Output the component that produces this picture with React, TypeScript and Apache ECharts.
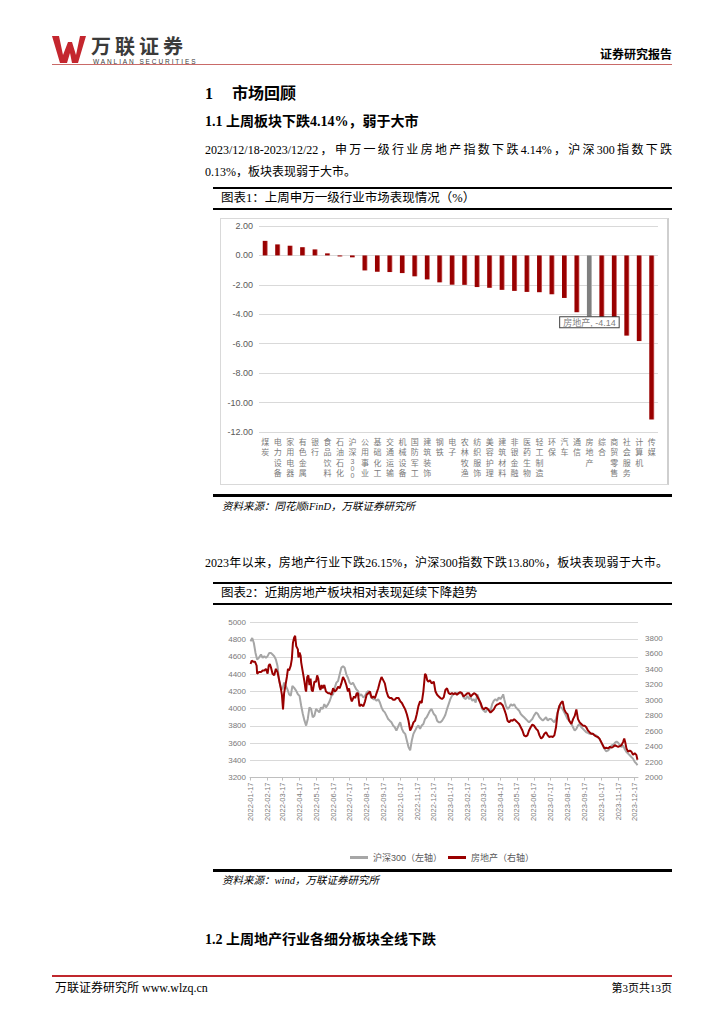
import React, { useEffect, useRef } from "react";
import * as echarts from "echarts";

// ---------- Chart 1 data ----------
const industries = ["煤炭","电力设备","家用电器","有色金属","银行","食品饮料","石油石化","沪深300","公用事业","基础化工","交通运输","机械设备","国防军工","建筑装饰","钢铁","电子","农林牧渔","纺织服饰","美容护理","建筑材料","非银金融","医药生物","轻工制造","环保","汽车","通信","房地产","综合","商贸零售","社会服务","计算机","传媒"];
const weeklyChange = [0.99,0.75,0.66,0.56,0.41,0.14,-0.07,-0.13,-1.02,-1.11,-1.13,-1.20,-1.42,-1.63,-1.83,-1.99,-2.00,-2.15,-2.20,-2.34,-2.41,-2.48,-2.50,-2.64,-2.89,-3.86,-4.14,-4.53,-4.70,-5.45,-5.82,-11.15];
const highlighted = "房地产";

// ---------- Chart 2 data ----------
// [days since 2022-01-17, index level]
const startDate = "2022-01-17";
const hs300: [number, number][] = [[1,4781],[4,4820],[7,4762],[10,4647],[13,4570],[16,4589],[20,4628],[23,4589],[26,4609],[29,4589],[32,4609],[35,4647],[38,4647],[41,4628],[44,4609],[47,4570],[50,4494],[53,4321],[56,4244],[59,4225],[62,4302],[65,4263],[68,4225],[71,4167],[74,4148],[77,4263],[80,4244],[84,4206],[87,4167],[90,4148],[93,4033],[96,3937],[99,3860],[102,3803],[105,3880],[108,4014],[111,3995],[114,3899],[117,3918],[120,3995],[123,3976],[126,3956],[129,4014],[132,3995],[135,4052],[138,4014],[142,4052],[145,4091],[148,4148],[151,4167],[154,4244],[157,4302],[160,4321],[163,4398],[166,4474],[169,4494],[172,4474],[175,4398],[178,4359],[181,4302],[184,4282],[187,4302],[190,4263],[193,4225],[196,4206],[199,4148],[202,4167],[206,4129],[209,4148],[212,4187],[215,4206],[218,4167],[221,4129],[224,4110],[227,4110],[230,4091],[233,4110],[236,4071],[239,4014],[242,3976],[245,3956],[248,3918],[251,3880],[254,3860],[257,3841],[260,3803],[263,3784],[266,3745],[270,3803],[273,3841],[276,3765],[279,3726],[282,3707],[285,3630],[288,3553],[291,3515],[294,3630],[297,3707],[300,3745],[303,3784],[306,3803],[309,3765],[312,3803],[315,3822],[318,3880],[321,3899],[324,3937],[327,3976],[330,3995],[334,3937],[337,3918],[340,3860],[343,3841],[346,3841],[349,3860],[352,3890],[355,3929],[358,3995],[361,4052],[364,4110],[367,4148],[370,4167],[373,4179],[379,4179],[385,4179],[388,4129],[392,4110],[395,4148],[398,4110],[401,4129],[404,4091],[407,4110],[410,4071],[413,4167],[416,4110],[419,4052],[422,3995],[425,3976],[428,3956],[431,3995],[434,3995],[437,3976],[440,4052],[443,4091],[446,4110],[449,4091],[452,4129],[455,4110],[459,4148],[460,4167],[462,4110],[465,4033],[468,3995],[471,4014],[474,4052],[477,4033],[480,4052],[483,4014],[486,3995],[489,3976],[492,3937],[495,3918],[498,3899],[501,3880],[504,3860],[507,3841],[510,3860],[513,3880],[516,3918],[520,3956],[523,3937],[526,3899],[529,3880],[532,3860],[535,3880],[538,3899],[541,3860],[544,3880],[547,3880],[550,3860],[553,3841],[556,3880],[559,3956],[562,4033],[565,4014],[568,3995],[571,3956],[574,3918],[577,3880],[580,3860],[584,3822],[587,3784],[590,3745],[593,3765],[596,3803],[599,3822],[602,3784],[605,3765],[608,3745],[611,3726],[614,3718],[617,3707],[620,3707],[623,3707],[626,3695],[629,3688],[632,3668],[635,3649],[638,3611],[641,3573],[644,3534],[647,3504],[651,3515],[654,3542],[657,3573],[660,3580],[663,3603],[666,3619],[669,3603],[672,3580],[675,3553],[678,3573],[681,3527],[684,3496],[687,3477],[690,3458],[693,3438],[696,3419],[699,3381],[702,3362],[704,3342]];
const realEstate: [number, number][] = [[1,3465],[3,3507],[6,3494],[9,3494],[12,3444],[13,3339],[16,3360],[20,3360],[23,3381],[26,3381],[29,3402],[32,3339],[34,3444],[36,3465],[38,3423],[41,3339],[44,3318],[47,3402],[50,3360],[53,3256],[56,3151],[58,3067],[60,2879],[62,3088],[65,3214],[67,3297],[69,3402],[71,3381],[74,3444],[76,3528],[78,3737],[80,3800],[82,3829],[84,3695],[87,3653],[88,3549],[90,3612],[92,3570],[93,3486],[96,3360],[99,3235],[101,3130],[102,3109],[104,3297],[106,3318],[108,3193],[110,3277],[112,3130],[114,3109],[117,3235],[120,3235],[122,3318],[124,3277],[126,3172],[128,3130],[130,3193],[132,3151],[135,3193],[138,3109],[142,3088],[145,3088],[148,3067],[151,3151],[154,3109],[157,3130],[160,3172],[163,3151],[166,3214],[169,3297],[172,3256],[175,3193],[178,3109],[180,3151],[183,3025],[185,2983],[189,3046],[191,3025],[194,3088],[196,3088],[199,2920],[202,2941],[206,2920],[209,2983],[212,3067],[215,3088],[218,3109],[221,3025],[224,3046],[227,3025],[230,3088],[233,3151],[236,3235],[239,3297],[242,3256],[245,3214],[248,3109],[251,3046],[254,3025],[257,3025],[260,3004],[263,3004],[266,3025],[270,3025],[273,2983],[276,2962],[279,2920],[282,2879],[285,2816],[288,2732],[291,2606],[294,2648],[297,2711],[300,2732],[303,2816],[306,2921],[309,2983],[312,2962],[315,3109],[318,3339],[320,3318],[322,3256],[324,3235],[327,3256],[330,3214],[334,3235],[337,3109],[340,3067],[343,3046],[346,3025],[349,3014],[352,3034],[355,3130],[358,3151],[361,3088],[364,3075],[367,3088],[370,3075],[373,3088],[376,3067],[379,3088],[382,3101],[385,3088],[388,3046],[392,3067],[395,3088],[398,3088],[401,3046],[404,3067],[407,3088],[410,3075],[413,3046],[416,3004],[419,2962],[422,2900],[425,2879],[428,2900],[431,2891],[434,2866],[437,2837],[440,2858],[443,2879],[446,2921],[449,2941],[452,2950],[455,2962],[459,2933],[462,2879],[465,2816],[468,2732],[471,2711],[474,2740],[477,2732],[480,2753],[483,2732],[486,2711],[489,2690],[492,2648],[495,2606],[498,2544],[501,2531],[504,2544],[507,2606],[510,2648],[513,2682],[516,2669],[520,2627],[523,2606],[526,2544],[529,2502],[532,2523],[535,2565],[538,2585],[541,2544],[544,2523],[547,2531],[550,2523],[553,2544],[556,2648],[559,2837],[562,2921],[565,2962],[568,2983],[571,2879],[574,2837],[577,2816],[580,2732],[584,2690],[587,2753],[590,2795],[593,2879],[594,2879],[596,2753],[599,2711],[602,2690],[605,2669],[608,2669],[611,2648],[614,2606],[617,2585],[620,2565],[623,2565],[626,2544],[629,2531],[632,2523],[635,2502],[638,2460],[641,2418],[644,2376],[647,2384],[651,2376],[654,2397],[657,2384],[660,2397],[663,2418],[666,2405],[669,2397],[672,2405],[675,2418],[678,2460],[680,2502],[682,2447],[684,2376],[687,2334],[690,2347],[693,2334],[696,2292],[699,2313],[702,2292],[704,2230]];
const monthTicks = ["2022-01-17","2022-02-17","2022-03-17","2022-04-17","2022-05-17","2022-06-17","2022-07-17","2022-08-17","2022-09-17","2022-10-17","2022-11-17","2022-12-17","2023-01-17","2023-02-17","2023-03-17","2023-04-17","2023-05-17","2023-06-17","2023-07-17","2023-08-17","2023-09-17","2023-10-17","2023-11-17","2023-12-17"];
const endDay = 705;

const parseDate = (s: string) => {
  const [y, m, d] = s.split("-").map(Number);
  return Date.UTC(y, m - 1, d);
};
const DAY = 86400000;
const t0 = parseDate(startDate);
const dayOf = (s: string) => Math.round((parseDate(s) - t0) / DAY);
const pad = (n: number) => (n < 10 ? "0" + n : "" + n);
const fmtDay = (d: number) => {
  const dt = new Date(t0 + Math.round(d) * DAY);
  return `${dt.getUTCFullYear()}-${pad(dt.getUTCMonth() + 1)}-${pad(dt.getUTCDate())}`;
};

const CFONT = '"Liberation Sans","Noto Sans CJK SC",sans-serif';
const SERIF = '"Liberation Serif","Noto Sans CJK SC",serif';
const RED = "#990000";

function buildOption1(): any {
  const barColor = new echarts.graphic.LinearGradient(0, 0, 1, 0, [
    { offset: 0, color: RED },
    { offset: 0.72, color: RED },
    { offset: 1, color: "#d98080" },
  ]);
  const greyColor = new echarts.graphic.LinearGradient(0, 0, 1, 0, [
    { offset: 0, color: "#7f7f7f" },
    { offset: 0.72, color: "#7f7f7f" },
    { offset: 1, color: "#bfbfbf" },
  ]);
  return {
    animation: false,
    textStyle: { fontFamily: CFONT },
    grid: { left: 38, right: 9, top: 7, bottom: 52 },
    xAxis: {
      type: "category",
      data: industries,
      axisLine: { show: false },
      axisTick: { show: false },
      axisLabel: {
        interval: 0,
        margin: 5,
        color: "#7a7a7a",
        fontSize: 8,
        lineHeight: 10.5,
        formatter: (v: string) =>
          v
            .split("")
            .map((ch) => (/[0-9]/.test(ch) ? `{d|${ch}}` : ch))
            .join("\n"),
        rich: { d: { fontSize: 7, lineHeight: 7, color: "#7a7a7a" } },
      },
    },
    yAxis: {
      type: "value",
      min: -12,
      max: 2,
      interval: 2,
      axisLine: { show: false },
      axisTick: { show: false },
      axisLabel: {
        color: "#595959",
        fontSize: 9,
        margin: 6,
        formatter: (v: number) => v.toFixed(2),
      },
      splitLine: { lineStyle: { color: "#d9d9d9", width: 1 } },
    },
    series: [
      {
        type: "bar",
        barWidth: 5,
        itemStyle: { color: barColor },
        data: weeklyChange.map((v, i) =>
          industries[i] === highlighted
            ? {
                value: v,
                itemStyle: { color: greyColor },
                label: {
                  show: true,
                  position: "bottom",
                  distance: 1,
                  formatter: "{b}, {c}",
                  color: "#7f7f7f",
                  fontSize: 9,
                  backgroundColor: "#ffffff",
                  borderColor: "#404040",
                  borderWidth: 1,
                  padding: [1, 3, 0, 3],
                },
              }
            : v
        ),
      },
    ],
  };
}

function buildOption2(): any {
  const tickDays = monthTicks.map(dayOf);
  return {
    animation: false,
    textStyle: { fontFamily: CFONT },
    grid: { left: 38, right: 34, top: 10.5, bottom: 84.5 },
    legend: {
      top: 236,
      left: "center",
      icon: "rect",
      itemWidth: 18,
      itemHeight: 3,
      itemGap: 6,
      textStyle: { color: "#595959", fontSize: 9 },
      data: ["沪深300（左轴）", "房地产（右轴）"],
    },
    xAxis: {
      type: "value",
      min: 0,
      max: endDay,
      axisLine: { show: true, onZero: false, lineStyle: { color: "#bfbfbf" } },
      axisTick: { show: true, customValues: tickDays, length: 3, lineStyle: { color: "#bfbfbf" } },
      splitLine: { show: false },
      axisLabel: {
        customValues: tickDays,
        rotate: 90,
        margin: 5,
        fontSize: 7.5,
        color: "#7a7a7a",
        formatter: (v: number) => fmtDay(v),
      },
    },
    yAxis: [
      {
        type: "value",
        min: 3200,
        max: 5000,
        interval: 200,
        position: "left",
        axisLine: { show: false },
        axisTick: { show: false },
        axisLabel: { color: "#7a7a7a", fontSize: 8, margin: 4, formatter: (v: number) => String(v) },
        splitLine: { lineStyle: { color: "#d9d9d9" } },
      },
      {
        type: "value",
        min: 2000,
        max: 4000,
        interval: 200,
        position: "right",
        axisLine: { show: false },
        axisTick: { show: false },
        axisLabel: { color: "#7a7a7a", fontSize: 8, margin: 7, showMaxLabel: false, formatter: (v: number) => String(v) },
        splitLine: { show: false },
      },
    ],
    series: [
      {
        name: "沪深300（左轴）",
        type: "line",
        yAxisIndex: 0,
        symbol: "none",
        color: "#a6a6a6",
        lineStyle: { color: "#a6a6a6", width: 2 },
        data: hs300,
      },
      {
        name: "房地产（右轴）",
        type: "line",
        yAxisIndex: 1,
        symbol: "none",
        color: RED,
        lineStyle: { color: RED, width: 2 },
        data: realEstate,
      },
    ],
  };
}

type TProps = {
  x: number;
  y: number;
  size: number;
  bold?: boolean;
  italic?: boolean;
  right?: boolean;
  width?: number;
  justify?: boolean;
  color?: string;
  font?: string;
  lhf?: number;
  spacing?: number;
  children: React.ReactNode;
};

function T({ x, y, size, bold, italic, right, width, justify, color, font, lhf, spacing, children }: TProps) {
  const lh = Math.round(size * (lhf || 1.3));
  const style: React.CSSProperties = {
    position: "absolute",
    top: y - lh / 2,
    fontSize: size,
    lineHeight: `${lh}px`,
    fontWeight: bold ? 700 : 400,
    fontStyle: italic ? "italic" : "normal",
    whiteSpace: "nowrap",
    color: color || "#000",
    fontFamily: font || SERIF,
    letterSpacing: spacing || 0,
  };
  if (right) style.right = 724 - x;
  else style.left = x;
  if (width) {
    style.width = width;
    if (justify) {
      style.textAlign = "justify";
      (style as any).textAlignLast = "justify";
    }
  }
  return <div style={style}>{children}</div>;
}

function HLine({ x, y, w, h, color }: { x: number; y: number; w: number; h: number; color: string }) {
  return <div style={{ position: "absolute", left: x, top: y, width: w, height: h, background: color }} />;
}

export default function App() {
  const ref1 = useRef<HTMLDivElement>(null);
  const ref2 = useRef<HTMLDivElement>(null);

  useEffect(() => {
    const c1 = echarts.init(ref1.current!, null, { renderer: "svg" });
    c1.setOption(buildOption1());
    const c2 = echarts.init(ref2.current!, null, { renderer: "svg" });
    c2.setOption(buildOption2());
    return () => {
      c1.dispose();
      c2.dispose();
    };
  }, []);

  return (
    <div style={{ position: "absolute", left: 0, top: 0, width: 724, height: 1024, background: "#fff", overflow: "hidden" }}>
      {/* Header */}
      <svg style={{ position: "absolute", left: 0, top: 0 }} width={100} height={70}>
        <polygon points="52,36 59,36 63,55 68,42 72,42 76,55 80,36 86,36 78,63 72,63 70,53 67,63 60,63" fill="#c4262e" />
      </svg>
      <T x={91} y={46.5} size={20} bold lhf={1} font={'"Liberation Sans","Noto Sans CJK SC",sans-serif'} color="#3b3b3b" spacing={4}>万联证券</T>
      <T x={93} y={61.8} size={6.5} lhf={1} font={'"Liberation Sans",sans-serif'} color="#3b3b3b" spacing={1.9}>WANLIAN SECURITIES</T>
      <T x={672} y={55} size={12} bold right>证券研究报告</T>
      <HLine x={52} y={64} w={620} h={1} color="#c96a68" />

      {/* Section headings */}
      <T x={205} y={93} size={16} bold>1</T>
      <T x={232} y={93} size={16} bold>市场回顾</T>
      <T x={205} y={122} size={14} bold>1.1 上周板块下跌4.14%，弱于大市</T>
      <T x={205} y={150} size={12} width={467} justify>2023/12/18-2023/12/22，申万一级行业房地产指数下跌4.14%，沪深300指数下跌</T>
      <T x={205} y={172} size={12}>0.13%，板块表现弱于大市。</T>

      {/* Figure 1 */}
      <HLine x={213} y={187} w={459} h={2} color="#000" />
      <T x={221} y={198} size={12.5}>图表1：上周申万一级行业市场表现情况（%）</T>
      <HLine x={213} y={208} w={459} h={1.5} color="#000" />
      <div style={{ position: "absolute", left: 220, top: 218, width: 446, height: 265, border: "1px solid #d9d9d9", borderRightWidth: 2, borderRightColor: "#cfcfcf" }}>
        <div ref={ref1} style={{ width: 446, height: 265 }} />
      </div>
      <HLine x={213} y={494} w={459} h={2.5} color="#000" />
      <T x={222} y={507} size={10.5} italic>资料来源：同花顺iFinD，万联证券研究所</T>

      {/* Paragraph 2 */}
      <T x={205} y={563} size={12} width={463} justify>2023年以来，房地产行业下跌26.15%，沪深300指数下跌13.80%，板块表现弱于大市。</T>

      {/* Figure 2 */}
      <HLine x={213} y={582} w={459} h={2} color="#000" />
      <T x={221} y={593} size={12.5}>图表2：近期房地产板块相对表现延续下降趋势</T>
      <HLine x={213} y={603} w={459} h={1.5} color="#000" />
      <div ref={ref2} style={{ position: "absolute", left: 212, top: 612, width: 460, height: 250 }} />
      <HLine x={213} y={869} w={459} h={2.5} color="#000" />
      <T x={222} y={881} size={10.5} italic>资料来源：wind，万联证券研究所</T>

      {/* Next heading */}
      <T x={205} y={940} size={14} bold>1.2 上周地产行业各细分板块全线下跌</T>

      {/* Footer */}
      <HLine x={52} y={975} w={620} h={2} color="#c0272d" />
      <T x={55} y={988} size={12}>万联证券研究所 www.wlzq.cn</T>
      <T x={672} y={988} size={11} right>第3页共13页</T>
    </div>
  );
}
